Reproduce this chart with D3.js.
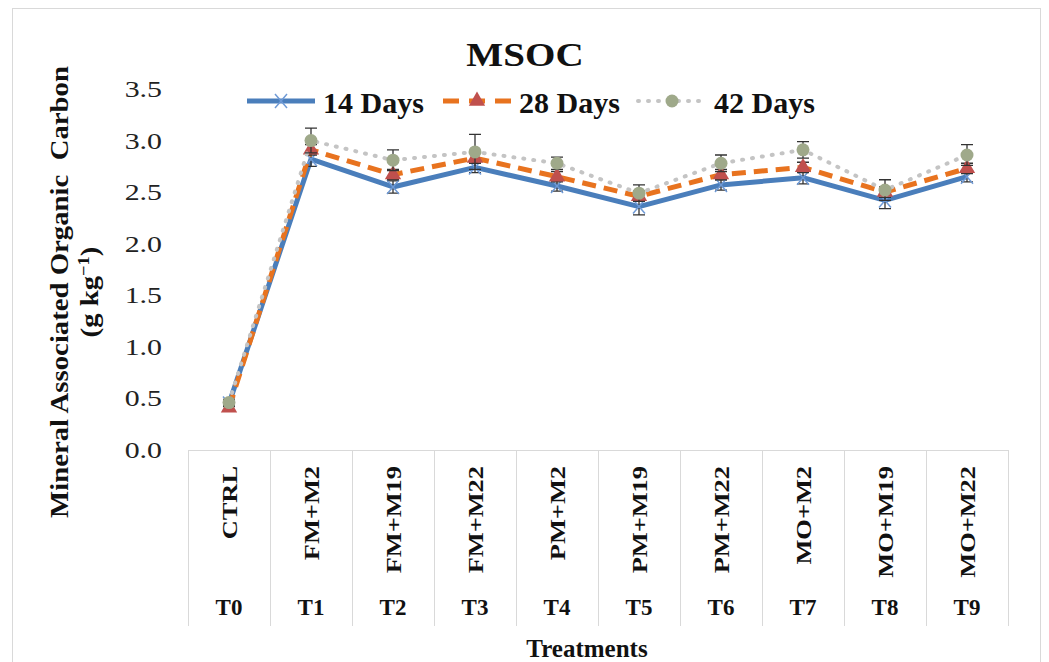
<!DOCTYPE html>
<html>
<head>
<meta charset="utf-8">
<script src="https://cdn.jsdelivr.net/npm/d3@7"></script>
<style>
  body { margin: 0; background: #fff; }
  text { font-family: "Liberation Serif", "Times New Roman", serif; }
</style>
</head>
<body>
<div id="chart"></div>
<script>
// categories
const treatments = ["CTRL", "FM+M2", "FM+M19", "FM+M22", "PM+M2", "PM+M19", "PM+M22", "MO+M2", "MO+M19", "MO+M22"];
const codes = ["T0", "T1", "T2", "T3", "T4", "T5", "T6", "T7", "T8", "T9"];

// series values (g/kg) and error bars
const days14 = [0.45, 2.82, 2.55, 2.74, 2.56, 2.36, 2.57, 2.64, 2.42, 2.65];
const days28 = [0.41, 2.91, 2.67, 2.83, 2.65, 2.46, 2.67, 2.74, 2.50, 2.73];
const days42 = [0.46, 3.00, 2.81, 2.89, 2.78, 2.49, 2.78, 2.91, 2.52, 2.86];
const err14 = [0.03, 0.07, 0.06, 0.05, 0.05, 0.08, 0.05, 0.06, 0.08, 0.05];
const err28 = [0.03, 0.05, 0.05, 0.05, 0.05, 0.05, 0.05, 0.05, 0.05, 0.05];
const err42 = [0.03, 0.12, 0.10, 0.17, 0.06, 0.08, 0.08, 0.08, 0.10, 0.10];
const yTicks = [0, 0.5, 1.0, 1.5, 2.0, 2.5, 3.0, 3.5];

const width = 1049, height = 662;

const svg = d3.select("#chart").append("svg")
    .attr("width", width)
    .attr("height", height);

// outer chart frame
svg.append("rect")
    .attr("x", 12.5).attr("y", 8.5)
    .attr("width", 1028).attr("height", 700)
    .attr("fill", "#fff")
    .attr("stroke", "#d9d9d9");

const x = d3.scaleBand()
    .domain(codes)
    .range([188, 1008])
    .padding(0);

const y = d3.scaleLinear()
    .domain([0, 3.5])
    .range([450, 89]);

const cx = i => x(codes[i]) + x.bandwidth() / 2;

// y tick labels (lettering in the source is wide, so stretch horizontally)
svg.append("g")
    .selectAll("text")
    .data(yTicks)
    .join("text")
    .attr("transform", d => `translate(162,${y(d)}) scale(1.3,1)`)
    .attr("dy", "0.35em")
    .attr("text-anchor", "end")
    .attr("font-size", 23)
    .attr("fill", "#222")
    .text(d => d3.format(".1f")(d));

// category table (multi-level axis)
const grid = "#d9d9d9";
svg.append("line")
    .attr("x1", 188).attr("x2", 1008)
    .attr("y1", y(0) + 0.5).attr("y2", y(0) + 0.5)
    .attr("stroke", grid);

const edges = codes.map(c => x(c)).concat([x.range()[1]]);
svg.append("g")
    .selectAll("line")
    .data(edges)
    .join("line")
    .attr("x1", d => Math.round(d) + 0.5)
    .attr("x2", d => Math.round(d) + 0.5)
    .attr("y1", y(0))
    .attr("y2", 626)
    .attr("stroke", grid);

svg.append("g")
    .selectAll("text")
    .data(treatments)
    .join("text")
    .attr("transform", (d, i) => `translate(${cx(i) + 8},466) rotate(-90) scale(1.2,1)`)
    .attr("text-anchor", "end")
    .attr("font-size", 22)
    .attr("font-weight", "bold")
    .attr("fill", "#111")
    .text(d => d);

svg.append("g")
    .selectAll("text")
    .data(codes)
    .join("text")
    .attr("x", (d, i) => cx(i))
    .attr("y", 615)
    .attr("text-anchor", "middle")
    .attr("font-size", 23)
    .attr("font-weight", "bold")
    .attr("fill", "#111")
    .text(d => d);

svg.append("text")
    .attr("x", 587)
    .attr("y", 657)
    .attr("text-anchor", "middle")
    .attr("font-size", 25)
    .attr("font-weight", "bold")
    .attr("fill", "#111")
    .text("Treatments");

// y axis title
const yTitle = svg.append("text")
    .attr("transform", "translate(0,292) rotate(-90) scale(1.15,1)")
    .attr("text-anchor", "middle")
    .attr("font-size", 25)
    .attr("font-weight", "bold")
    .attr("fill", "#111");
yTitle.append("tspan").attr("x", 0).attr("y", 68).text("Mineral Associated Organic\u00a0 Carbon");
const l2 = yTitle.append("tspan").attr("x", 0).attr("y", 98);
l2.append("tspan").text("(g kg");
l2.append("tspan").attr("dy", -9).attr("font-size", 16).text("\u22121");
l2.append("tspan").attr("dy", 9).text(")");

// title
svg.append("text")
    .attr("transform", "translate(525,66) scale(1.15,1)")
    .attr("text-anchor", "middle")
    .attr("font-size", 34)
    .attr("font-weight", "bold")
    .attr("fill", "#111")
    .text("MSOC");

// series
const series = [
    { name: "14 Days", values: days14, err: err14, color: "#4a7ebb", width: 5, dash: null, marker: "x", mcolor: "#6f9ad6" },
    { name: "28 Days", values: days28, err: err28, color: "#e8731f", width: 5, dash: "14,8", marker: "tri", mcolor: "#c0504d" },
    { name: "42 Days", values: days42, err: err42, color: "#c4c4c4", width: 4, dash: "1,9", marker: "circ", mcolor: "#9fa98a" }
];

const line = d3.line()
    .x((d, i) => cx(i))
    .y(d => y(d));

function drawMarker(g, s, px, py) {
    if (s.marker === "x") {
        g.append("path")
            .attr("d", `M${px - 6},${py - 7}L${px + 6},${py + 7}M${px - 6},${py + 7}L${px + 6},${py - 7}`)
            .attr("stroke", s.mcolor).attr("stroke-width", 1.5);
    } else if (s.marker === "tri") {
        g.append("path")
            .attr("d", d3.symbol(d3.symbolTriangle, 115)())
            .attr("transform", `translate(${px},${py})`)
            .attr("fill", s.mcolor);
    } else {
        g.append("circle")
            .attr("cx", px).attr("cy", py).attr("r", 6.5)
            .attr("fill", s.mcolor);
    }
}

series.forEach(s => {
    const g = svg.append("g");
    g.append("path")
        .datum(s.values)
        .attr("d", line)
        .attr("fill", "none")
        .attr("stroke", s.color)
        .attr("stroke-width", s.width)
        .attr("stroke-linecap", s.dash === "1,9" ? "round" : "butt")
        .attr("stroke-linejoin", "round")
        .attr("stroke-dasharray", s.dash);

    // error bars
    s.values.forEach((v, i) => {
        const px = cx(i);
        const top = y(v + s.err[i]), bot = y(v - s.err[i]);
        g.append("path")
            .attr("d", `M${px},${top}L${px},${bot}M${px - 6},${top}L${px + 6},${top}M${px - 6},${bot}L${px + 6},${bot}`)
            .attr("stroke", "#333")
            .attr("stroke-width", 1.3)
            .attr("fill", "none");
    });

    s.values.forEach((v, i) => drawMarker(g, s, cx(i), y(v)));
});

// legend
const legendX = [247, 443, 638];
series.forEach((s, k) => {
    const g = svg.append("g");
    const x0 = legendX[k], ly = 101;
    g.append("line")
        .attr("x1", x0).attr("x2", x0 + 68)
        .attr("y1", ly).attr("y2", ly)
        .attr("stroke", s.color)
        .attr("stroke-width", s.width)
        .attr("stroke-linecap", s.dash === "1,9" ? "round" : "butt")
        .attr("stroke-dasharray", s.dash === "14,8" ? "16,10" : s.dash);
    drawMarker(g, s, x0 + 34, ly);
    g.append("text")
        .attr("x", x0 + 76)
        .attr("y", ly + 1)
        .attr("dy", "0.35em")
        .attr("font-size", 30)
        .attr("font-weight", "bold")
        .attr("fill", "#111")
        .text(s.name);
});
</script>
</body>
</html>
